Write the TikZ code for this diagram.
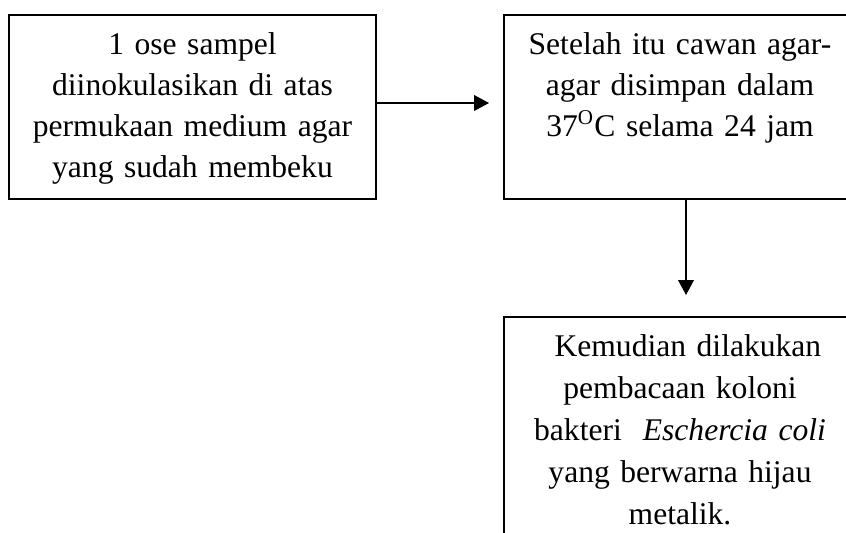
\documentclass[tikz,border=0pt]{standalone}
\usepackage{fontspec}
\setmainfont{Liberation Serif}
\usetikzlibrary{arrows.meta, positioning}

\begin{document}
\begin{tikzpicture}[x=0.38pt, y=-0.38pt,
    box/.style={draw, line width=0.75pt, align=center, anchor=north, inner xsep=4pt, inner ysep=6.6pt, font=\fontsize{12pt}{15.6pt}\selectfont},
    flow/.style={-{Triangle[length=5.7pt, width=6pt]}, line width=0.5pt}]  % Picture in pixel units, with box and arrow styles
    \useasboundingbox (0,0) rectangle (846,532);  % Fixes the page size
    % Nodes
    \node (inoculate) [box, text width=131.5pt, text depth=48.3pt] at (192.5,14) {1 ose sampel\\diinokulasikan di atas\\permukaan medium agar\\yang sudah membeku};  % First step, on the left
    \node (incubate) [box, text width=125.8pt, text depth=48.3pt] at (680,14) {Setelah itu cawan agar-\\agar disimpan dalam\\37\textsuperscript{O}C selama 24 jam};  % Second step, on the right
    \node (reading) [box, text width=125.8pt, font=\fontsize{12pt}{16pt}\selectfont] at (680,316) {\hspace*{0.5em}Kemudian dilakukan\\pembacaan koloni\\bakteri\ \ \textit{Eschercia coli}\\yang berwarna hijau\\metalik.};  % Last step, below the second one
    % Arrow ends
    \coordinate (tip1) at (489,103);  % Tip of the first arrow, short of the second box
    \coordinate (tip2) at (686,295);  % Tip of the second arrow, short of the last box
    % Arrows
    \draw [flow] (inoculate.east |- tip1) -- (tip1);  % Arrow from the first box to the right
    \draw [flow] (incubate.south -| tip2) -- (tip2);  % Arrow from the second box downwards
\end{tikzpicture}
\end{document}
